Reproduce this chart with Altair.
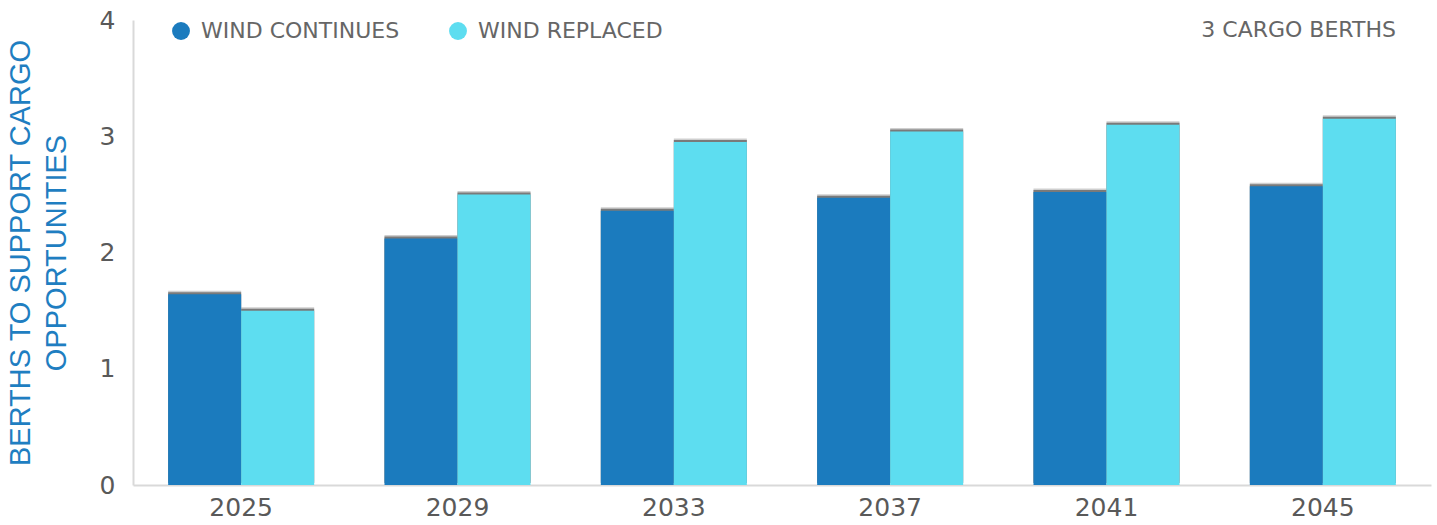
import altair as alt
import pandas as pd

years = ["2025", "2029", "2033", "2037", "2041", "2045"]
series = ["WIND CONTINUES", "WIND REPLACED"]
wind_continues = [1.64, 2.12, 2.36, 2.47, 2.52, 2.57]
wind_replaced = [1.50, 2.50, 2.95, 3.04, 3.10, 3.15]
colors = ["#1B7BBE", "#5DDDF0"]
y_title = ["BERTHS TO SUPPORT CARGO", "OPPORTUNITIES"]
note = "3 CARGO BERTHS"

rows = []
for i, yr in enumerate(years):
    rows.append({"year": yr, "series": series[0], "value": wind_continues[i]})
    rows.append({"year": yr, "series": series[1], "value": wind_replaced[i]})
df = pd.DataFrame(rows)

W, H = 1298, 465

x = alt.X("year:N", sort=years, title=None,
          scale=alt.Scale(paddingInner=0.325, paddingOuter=0.1625),
          axis=alt.Axis(labelAngle=0, labelFont="DejaVu Sans", labelFontSize=25,
                        labelColor="#595959", ticks=False, labelPadding=10,
                        domainColor="#d9d9d9", domainWidth=2))
y = alt.Y("value:Q", title=y_title,
          scale=alt.Scale(domain=[0, 4], nice=False),
          axis=alt.Axis(values=[0, 1, 2, 3, 4], grid=False, ticks=False,
                        labelFont="DejaVu Sans", labelFontSize=25, labelColor="#595959",
                        labelPadding=18, domainColor="#d9d9d9", domainWidth=2,
                        titleFont="Liberation Sans", titleFontSize=29,
                        titleFontWeight="normal", titleColor="#1F7EC1",
                        titlePadding=28, titleLineHeight=36))

offs = alt.XOffset("series:N", sort=series)
shadow = alt.Chart(df).mark_bar(color="#cfcfcf", xOffset=3.5, yOffset=-3.5).encode(
    x=x, xOffset=offs, y=y
)
shadow2 = alt.Chart(df).mark_bar(color="#7a7a7a", xOffset=1.5, yOffset=-2).encode(
    x=x, xOffset=offs, y=y
)
bars = alt.Chart(df).mark_bar().encode(
    x=x,
    xOffset=offs,
    y=y,
    color=alt.Color("series:N", sort=series,
                    scale=alt.Scale(domain=series, range=colors),
                    legend=alt.Legend(title=None, orient="none", legendX=37, legendY=0,
                                      direction="horizontal", symbolType="circle",
                                      symbolSize=320, labelFont="DejaVu Sans",
                                      labelFontSize=22, labelColor="#666666",
                                      labelLimit=0, columnPadding=47, symbolOpacity=1,
                                      labelOffset=9)),
)

note_df = pd.DataFrame({"t": [note]})
note_text = alt.Chart(note_df).mark_text(
    align="right", baseline="middle", font="DejaVu Sans", fontSize=22, color="#666666"
).encode(text="t:N", x=alt.value(1263), y=alt.value(10))

chart = alt.layer(shadow, shadow2, bars, note_text).properties(
    width=W, height=H,
    autosize=alt.AutoSizeParams(type="none"),
    padding={"left": 133, "top": 20, "right": 6, "bottom": 40},
).configure_view(stroke=None)

chart.save("out.html", embed_options={"renderer": "svg", "actions": False})
